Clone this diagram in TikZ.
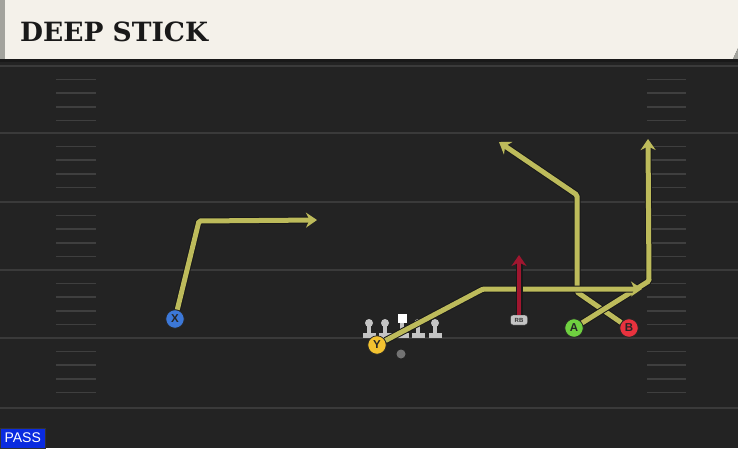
\documentclass[tikz,border=0pt]{standalone}
\usepackage{fontspec}
\setmainfont{Liberation Sans}
\newfontfamily\titlefont{DejaVu Serif}[BoldFont={DejaVu Serif Bold}]
\usetikzlibrary{arrows.meta}

\definecolor{fieldbg}{HTML}{232323}
\definecolor{yardline}{HTML}{3A3A3A}
\definecolor{hashgray}{HTML}{3F3F3F}
\definecolor{headercream}{HTML}{F4F1EA}
\definecolor{stripegray}{HTML}{A3A39D}
\definecolor{routeyellow}{HTML}{BDBB5B}
\definecolor{rbred}{HTML}{A0162F}
\definecolor{xblue}{HTML}{3C78D8}
\definecolor{yyellow}{HTML}{F2C230}
\definecolor{agreen}{HTML}{6FD040}
\definecolor{bred}{HTML}{E8323E}
\definecolor{passblue}{HTML}{0A2BE0}
\definecolor{linegray}{HTML}{C4C4C4}

\begin{document}
\begin{tikzpicture}[x=1pt, y=-1pt,
	player/.style={circle, draw=black!85, thick, minimum size=18.5pt, inner sep=0pt, font=\fontsize{11.5}{11.5}\selectfont\bfseries, text=black!85},
	route/.style={draw=routeyellow, line width=5pt, rounded corners=1.5pt,
		arrows={-Stealth[length=11pt, width=15pt, inset=3.5pt]},
		preaction={draw=black!90, line width=7pt, arrows=-, shorten >=7pt}},
	rbroute/.style={route, draw=rbred}]
	% field
	\useasboundingbox (0,0) rectangle (738,448);
	\fill[fieldbg] (0,0) rectangle (738,448);
	\foreach \y in {66,133,202,270,338,408}
		\draw[yardline, line width=2pt] (0,\y) -- (738,\y);
	\foreach \y in {66,133,202,270,338}
		\foreach \k in {1,...,4} {
			\draw[hashgray, line width=1.6pt] (56,\y+13.6*\k) -- (96,\y+13.6*\k);
			\draw[hashgray, line width=1.6pt] (647,\y+13.6*\k) -- (686,\y+13.6*\k);
		}
	
	% header
	\fill[headercream] (0,0) -- (738,0) -- (738,48) -- (733,59) -- (0,59) -- cycle;
	\fill[stripegray] (738,48) -- (738,59) -- (733,59) -- cycle;
	\fill[stripegray] (0,0) rectangle (5,59);
	\fill[black!90] (0,59) rectangle (738,62);
	\node[anchor=west, inner sep=0pt, font=\titlefont\bfseries\fontsize{26.5}{26.5}\selectfont, text=black!90] (title) at (20,32) {DEEP STICK};
	
	% line
	\foreach \x in {369,385,402,418,435} {
		\fill[linegray] (\x-1.8,322) rectangle (\x+1.8,336);
		\fill[linegray] (\x-6.5,333) rectangle (\x+6.5,338);
	}
	\foreach \x in {369,385,418,435}
		\fill[linegray] (\x,323) circle (4);
	\fill[white] (397.5,313.5) rectangle (406.5,322.5);
	
	\node[circle, fill=black!55, inner sep=0pt, minimum size=9pt] (qb) at (401,354) {};
	
	\node[player, fill=xblue] (X) at (175,319) {X};
	\node[player, fill=yyellow] (Y) at (377,345) {Y};
	\node[player, fill=agreen] (A) at (574,328) {A};
	\node[player, fill=bred] (B) at (629,328) {B};
	\node[rectangle, rounded corners=2.5pt, draw=black!85, fill=linegray, minimum width=17pt, minimum height=10pt, inner sep=0pt, font=\fontsize{6}{6}\selectfont\bfseries, text=black!80] (RB) at (519,320) {RB};
	
	\coordinate (x1) at (199,221);
	\coordinate (x2) at (317,220);
	\coordinate (y1) at (483,289);
	\coordinate (y2) at (642,289);
	\coordinate (a1) at (649,281);
	\coordinate (a2) at (648,139);
	\coordinate (b1) at (577,292);
	\coordinate (b2) at (577,195);
	\coordinate (b3) at (499,142);
	\coordinate (rb1) at (519,255);
	
	% routes
	\draw[route] (X) -- (x1) -- (x2);
	\draw[route] (B) -- (b1) -- (b2) -- (b3);
	\draw[route] (A) -- (a1) -- (a2);
	\draw[route] (Y) -- (y1) -- (y2);
	\draw[rbroute, line width=4pt] (RB) -- (rb1);
	
	\node[anchor=south west, fill=passblue, draw=black!80, inner xsep=2.5pt, inner ysep=2pt, minimum width=45pt, minimum height=20pt, font=\fontsize{14}{14}\selectfont, text=white] (pass) at (0,448) {PASS};
\end{tikzpicture}
\end{document}
